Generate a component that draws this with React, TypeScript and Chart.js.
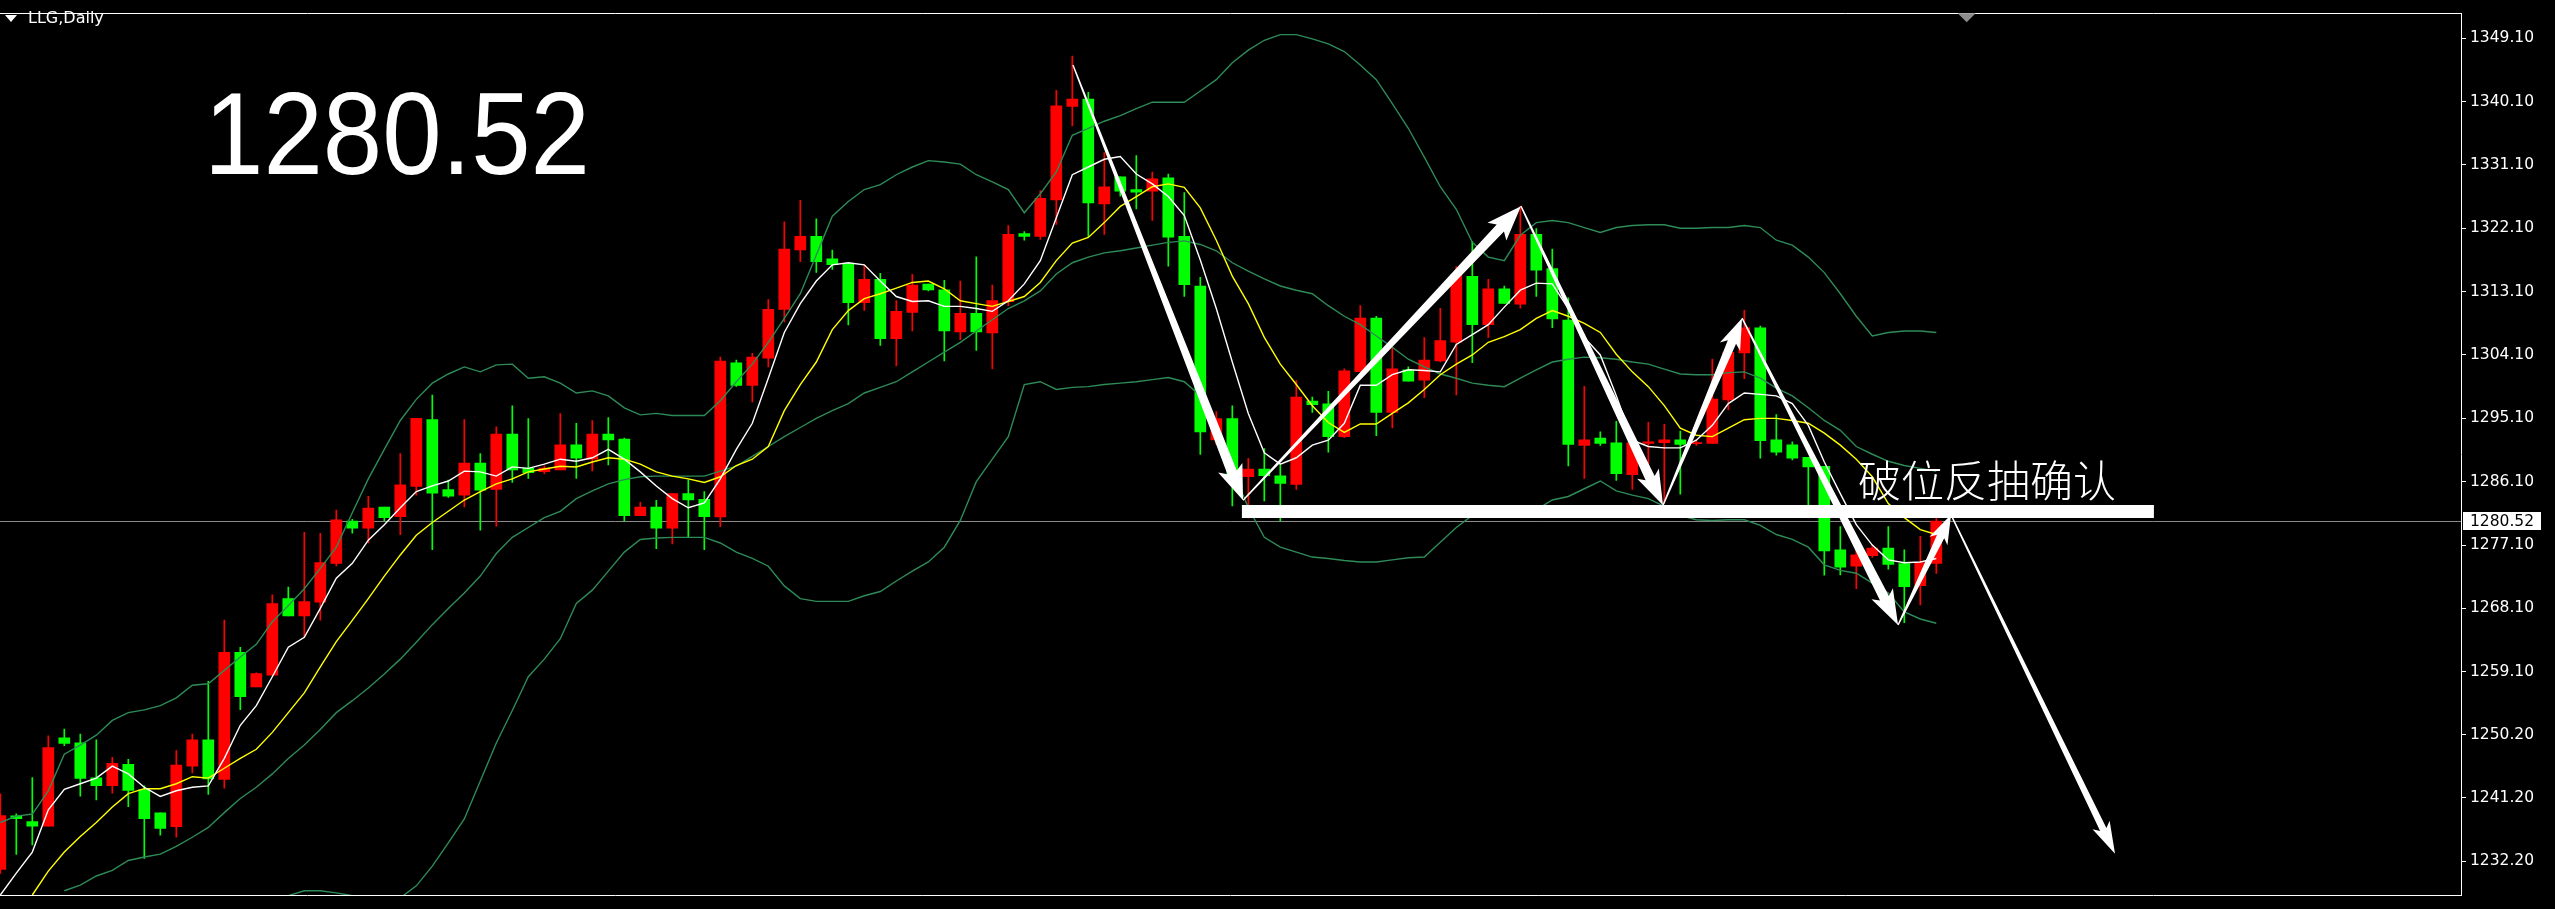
import React, { useEffect, useRef } from 'react';
import { Chart, registerables } from 'chart.js';

Chart.register(...registerables);

const SYMBOL = 'LLG,Daily';
const CURRENT_PRICE = 1280.52;
const Y_TICKS = [1349.1, 1340.1, 1331.1, 1322.1, 1313.1, 1304.1, 1295.1, 1286.1, 1277.1, 1268.1, 1259.1, 1250.2, 1241.2, 1232.2];

const OPEN = [
  1231.03, 1238.64, 1237.81, 1237.16, 1249.71, 1249.01, 1244.04, 1242.93, 1245.97, 1242.38,
  1239.06, 1237.12, 1245.70, 1249.43, 1243.80, 1261.88, 1256.94, 1258.61, 1269.49, 1267.04,
  1268.98, 1274.51, 1280.52, 1279.49, 1282.49, 1281.15, 1285.44, 1294.94, 1284.98, 1284.19,
  1288.76, 1285.02, 1292.87, 1288.03, 1287.51, 1287.79, 1291.35, 1289.31, 1292.87, 1292.17,
  1281.29, 1282.49, 1279.49, 1284.43, 1283.60, 1281.11, 1302.97, 1299.79, 1303.66, 1310.57,
  1319.01, 1320.95, 1317.77, 1317.08, 1311.54, 1314.86, 1306.42, 1310.16, 1314.17, 1313.34,
  1307.39, 1310.02, 1307.25, 1311.68, 1321.36, 1320.95, 1326.11, 1339.39, 1340.45, 1325.56,
  1329.39, 1327.59, 1327.35, 1329.25, 1320.95, 1313.89, 1292.04, 1295.08, 1286.82, 1287.89,
  1286.92, 1285.71, 1297.57, 1297.15, 1292.49, 1301.72, 1309.33, 1295.95, 1301.99, 1300.51,
  1303.24, 1305.91, 1315.27, 1308.40, 1313.48, 1311.30, 1321.22, 1316.38, 1309.05, 1291.25,
  1292.31, 1291.62, 1287.10, 1291.53, 1291.66, 1292.04, 1291.49, 1291.53, 1297.71, 1304.39,
  1307.95, 1292.04, 1291.35, 1289.55, 1288.30, 1276.41, 1274.10, 1275.58, 1276.69, 1274.47,
  1271.33, 1274.51,
];
const HIGH = [
  1241.78, 1238.92, 1244.08, 1249.99, 1250.95, 1250.26, 1249.43, 1246.94, 1246.66, 1242.89,
  1239.06, 1247.91, 1250.26, 1257.73, 1266.45, 1262.57, 1258.97, 1270.04, 1271.15, 1278.90,
  1278.76, 1282.08, 1280.74, 1284.01, 1282.49, 1290.10, 1295.12, 1298.40, 1286.32, 1294.94,
  1290.10, 1293.88, 1296.88, 1295.08, 1288.34, 1295.77, 1294.39, 1294.80, 1295.22, 1292.31,
  1283.18, 1283.46, 1284.43, 1286.37, 1284.71, 1303.80, 1303.38, 1304.35, 1311.96, 1323.02,
  1326.07, 1323.44, 1319.01, 1317.08, 1316.80, 1315.69, 1311.82, 1315.55, 1314.17, 1314.72,
  1314.58, 1318.04, 1314.03, 1322.47, 1321.64, 1327.45, 1341.70, 1346.54, 1341.42, 1332.84,
  1329.39, 1332.43, 1330.08, 1329.80, 1327.17, 1315.14, 1296.05, 1296.88, 1289.41, 1290.79,
  1288.48, 1300.47, 1298.12, 1298.95, 1302.13, 1311.12, 1309.60, 1305.04, 1302.41, 1306.56,
  1310.71, 1316.66, 1320.25, 1314.86, 1313.89, 1325.24, 1322.05, 1319.15, 1312.23, 1299.65,
  1293.18, 1294.66, 1291.62, 1294.53, 1294.25, 1293.28, 1292.04, 1303.52, 1304.49, 1310.44,
  1308.22, 1295.64, 1291.76, 1289.55, 1288.30, 1279.73, 1276.69, 1277.10, 1279.73, 1276.41,
  1278.34, 1281.66,
];
const LOW = [
  1230.48, 1233.15, 1234.53, 1237.16, 1248.60, 1241.45, 1240.90, 1241.87, 1239.93, 1232.60,
  1235.88, 1235.60, 1244.73, 1241.69, 1242.56, 1253.72, 1256.94, 1258.61, 1267.04, 1264.14,
  1266.45, 1274.15, 1278.80, 1277.42, 1280.52, 1278.58, 1284.19, 1276.45, 1283.87, 1282.53,
  1279.21, 1279.77, 1285.99, 1286.55, 1287.24, 1287.79, 1286.55, 1287.65, 1288.48, 1280.52,
  1281.29, 1276.59, 1277.28, 1278.30, 1276.45, 1279.73, 1299.65, 1297.43, 1302.41, 1308.78,
  1317.35, 1315.83, 1316.25, 1308.36, 1310.44, 1305.45, 1302.55, 1307.53, 1313.20, 1303.24,
  1306.28, 1304.76, 1302.13, 1311.12, 1320.39, 1320.53, 1322.65, 1336.62, 1320.95, 1321.22,
  1326.66, 1324.86, 1323.20, 1316.70, 1312.41, 1289.96, 1291.35, 1282.67, 1280.97, 1283.36,
  1280.56, 1285.02, 1295.95, 1290.28, 1292.35, 1301.72, 1292.63, 1293.74, 1300.38, 1298.02,
  1303.10, 1298.44, 1303.00, 1306.60, 1311.44, 1310.75, 1312.41, 1307.98, 1288.34, 1286.55,
  1291.25, 1286.27, 1285.02, 1288.21, 1283.05, 1284.33, 1291.25, 1291.53, 1296.33, 1300.75,
  1289.45, 1289.87, 1289.18, 1282.81, 1272.81, 1272.85, 1270.92, 1275.34, 1273.68, 1266.07,
  1268.59, 1273.09,
];
const CLOSE = [
  1238.69, 1238.23, 1237.16, 1248.33, 1248.92, 1243.94, 1242.93, 1246.11, 1242.24, 1238.23,
  1236.85, 1245.84, 1249.43, 1243.90, 1261.88, 1255.56, 1258.84, 1268.80, 1267.04, 1269.08,
  1274.61, 1280.70, 1279.49, 1282.35, 1281.01, 1285.67, 1295.12, 1284.47, 1284.05, 1288.76,
  1284.89, 1292.87, 1287.79, 1287.38, 1288.03, 1291.35, 1289.45, 1292.87, 1292.04, 1281.29,
  1282.49, 1279.49, 1284.43, 1283.50, 1281.15, 1303.24, 1299.79, 1303.80, 1310.57, 1319.15,
  1320.95, 1317.35, 1316.94, 1311.54, 1314.86, 1306.42, 1310.30, 1314.03, 1313.34, 1307.53,
  1310.02, 1307.39, 1311.82, 1321.22, 1320.95, 1326.34, 1339.49, 1340.45, 1325.69, 1328.00,
  1327.35, 1327.22, 1329.11, 1320.85, 1314.07, 1293.18, 1295.08, 1286.82, 1287.89, 1286.96,
  1285.85, 1298.12, 1297.06, 1292.49, 1301.86, 1309.33, 1295.95, 1302.13, 1300.38, 1303.38,
  1306.14, 1315.55, 1308.40, 1313.48, 1311.44, 1321.22, 1316.15, 1309.23, 1291.39, 1292.04,
  1291.53, 1287.24, 1291.62, 1291.76, 1292.04, 1291.39, 1291.66, 1297.85, 1304.49, 1307.95,
  1291.94, 1290.28, 1289.45, 1288.21, 1276.27, 1273.96, 1275.72, 1276.69, 1274.37, 1271.19,
  1274.61, 1280.52,
];

// Indicator lines (white fast MA, yellow slow MA, Bollinger bands)
const MA_FAST = [
  1227.4, 1230.5, 1233.5, 1239.5, 1242.4, 1243.2, 1244.0, 1245.7, 1244.6, 1242.7,
  1241.4, 1242.2, 1242.7, 1242.9, 1246.8, 1251.5, 1254.3, 1258.4, 1262.6, 1264.0,
  1268.1, 1272.4, 1274.5, 1277.8, 1280.0, 1282.4, 1284.7, 1285.5, 1286.2, 1287.6,
  1287.5, 1286.9, 1288.2, 1288.0, 1288.6, 1289.3, 1289.0, 1289.5, 1290.7, 1289.3,
  1287.5, 1285.5, 1283.7, 1282.4, 1283.1, 1286.5, 1290.7, 1294.4, 1300.8, 1307.3,
  1311.4, 1314.6, 1316.9, 1317.2, 1316.9, 1314.6, 1312.4, 1311.7, 1311.8, 1311.0,
  1311.0, 1310.7, 1310.3, 1311.8, 1314.2, 1317.5, 1323.6, 1329.7, 1330.8, 1331.9,
  1332.3, 1329.8, 1328.4, 1326.6, 1323.9, 1317.6, 1310.7, 1303.1, 1295.8, 1290.2,
  1288.6, 1289.5, 1291.3, 1292.0, 1294.4, 1299.8, 1299.8, 1301.3, 1302.0, 1301.9,
  1301.7, 1305.6, 1307.0, 1308.4, 1310.9, 1313.3, 1314.3, 1314.2, 1310.7, 1306.6,
  1304.1, 1298.3, 1292.0, 1291.1, 1290.9, 1290.9, 1292.0, 1294.1, 1297.2, 1298.7,
  1298.5, 1298.3, 1297.2, 1294.1, 1288.9, 1284.4, 1280.0, 1277.1, 1275.0, 1274.6,
  1274.7, 1275.2,
];
const MA_SLOW = [
  null, null, 1227.4, 1230.8, 1233.5, 1235.7, 1237.7, 1239.9, 1241.8, 1242.5,
  1242.5, 1243.2, 1244.2, 1244.0, 1245.4, 1246.8, 1248.1, 1250.5, 1253.3, 1256.1,
  1259.8, 1263.4, 1266.4, 1269.5, 1272.7, 1275.7, 1278.5, 1280.3, 1281.9, 1283.5,
  1284.7, 1285.8, 1286.5, 1287.5, 1287.9, 1288.3, 1288.2, 1288.9, 1289.5, 1289.3,
  1288.6, 1287.5, 1286.9, 1286.5, 1286.0, 1286.8, 1288.4, 1289.3, 1291.1, 1296.2,
  1299.9, 1303.1, 1307.7, 1310.4, 1312.1, 1312.8, 1313.6, 1314.4, 1314.6, 1313.5,
  1311.8, 1311.4, 1311.0, 1311.7, 1312.4, 1314.4, 1317.5, 1320.0, 1320.8, 1322.9,
  1325.2, 1326.6, 1328.0, 1328.4, 1327.9, 1325.0, 1320.4, 1315.3, 1311.4, 1306.6,
  1302.8, 1299.9, 1296.9, 1294.5, 1293.1, 1294.3, 1294.3, 1295.8, 1297.3, 1299.2,
  1301.3, 1302.8, 1304.1, 1305.9, 1306.7, 1307.7, 1309.3, 1310.4, 1309.6, 1308.6,
  1307.3, 1304.2, 1301.7, 1299.6, 1296.9, 1293.7, 1292.7, 1292.5, 1293.7, 1294.9,
  1295.1, 1295.1, 1294.8, 1294.4, 1293.0, 1291.3, 1289.3, 1286.8, 1283.0, 1281.0,
  1279.3, 1278.6,
];
const BB_UPPER = [
  1237.7, 1238.6, 1238.9, 1242.2, 1247.4, 1248.7, 1250.1, 1252.2, 1253.3, 1253.7,
  1254.3, 1255.4, 1257.2, 1257.4, 1259.3, 1261.2, 1263.0, 1266.2, 1268.5, 1270.9,
  1273.8, 1276.8, 1281.7, 1286.5, 1290.7, 1294.8, 1297.8, 1300.1, 1301.4, 1302.4,
  1301.7, 1302.7, 1302.8, 1300.8, 1301.0, 1300.1, 1298.7, 1299.0, 1298.3, 1296.6,
  1295.6, 1295.8, 1295.5, 1295.5, 1295.5, 1297.6, 1300.3, 1302.8, 1305.9, 1309.3,
  1312.8, 1318.3, 1323.8, 1325.9, 1327.6, 1328.3, 1329.7, 1330.8, 1331.7, 1331.5,
  1331.2, 1329.7, 1328.7, 1327.6, 1324.3, 1327.0, 1330.1, 1335.3, 1336.3, 1337.3,
  1338.1, 1339.1, 1340.0, 1340.0, 1340.0, 1341.6, 1343.2, 1345.6, 1347.4, 1348.8,
  1349.6, 1349.6, 1349.0, 1348.3, 1347.2, 1345.3, 1343.2, 1339.8, 1336.3, 1332.2,
  1328.0, 1324.8, 1320.1, 1318.0, 1317.5, 1321.1, 1322.9, 1323.2, 1322.9, 1322.2,
  1321.5, 1322.2, 1322.5, 1322.6, 1322.6, 1322.1, 1322.1, 1322.2, 1322.2, 1322.5,
  1322.2, 1320.4, 1319.7, 1318.0, 1315.8, 1312.8, 1309.6, 1306.8, 1307.3, 1307.5,
  1307.5, 1307.3,
];
const BB_MIDDLE = [
  null, null, null, null, 1228.0, 1228.8, 1230.1, 1230.9, 1232.3, 1232.8,
  1233.2, 1234.3, 1235.6, 1237.0, 1239.1, 1241.1, 1242.7, 1244.6, 1246.8, 1248.7,
  1250.9, 1253.3, 1255.0, 1256.8, 1258.8, 1260.9, 1263.3, 1265.8, 1268.1, 1270.3,
  1272.7, 1275.9, 1278.2, 1279.6, 1281.0, 1281.9, 1283.7, 1284.8, 1285.8, 1286.4,
  1286.8, 1286.9, 1286.9, 1286.9, 1286.9, 1287.6, 1288.3, 1289.7, 1291.1, 1292.5,
  1293.8, 1295.1, 1296.2, 1297.2, 1298.7, 1299.5, 1300.3, 1301.7, 1303.1, 1304.5,
  1305.9, 1307.5, 1309.1, 1310.7, 1311.8, 1313.2, 1315.6, 1317.2, 1318.0, 1318.6,
  1318.9, 1319.3, 1319.7, 1320.1, 1320.3, 1319.8, 1318.9, 1317.2, 1316.0, 1314.9,
  1313.9, 1313.3, 1312.8, 1311.1, 1309.6, 1308.4, 1306.8, 1305.2, 1303.5, 1302.4,
  1301.4, 1300.8, 1300.1, 1299.8, 1299.6, 1300.8, 1302.0, 1303.1, 1303.5, 1303.8,
  1303.7, 1303.5, 1303.1, 1302.8, 1302.1, 1301.4, 1301.3, 1301.3, 1301.6, 1301.7,
  1300.8, 1299.4, 1298.3, 1296.6, 1294.8, 1293.4, 1291.1, 1290.0, 1289.0, 1288.4,
  1288.0, 1287.6,
];
const BB_LOWER = [
  null, null, null, null, null, null, null, null, null, null,
  null, null, null, null, null, null, null, null, 1227.3, 1228.0,
  1228.0, 1227.7, 1227.3, 1226.7, 1226.6, 1227.0, 1228.7, 1231.5, 1234.8, 1238.2,
  1243.6, 1249.0, 1253.6, 1258.4, 1260.9, 1263.8, 1268.8, 1270.7, 1273.4, 1276.1,
  1277.9, 1278.1, 1278.2, 1278.2, 1278.2, 1277.4, 1276.1, 1275.2, 1274.1, 1271.3,
  1269.5, 1269.1, 1269.1, 1269.1, 1269.9, 1270.5, 1272.0, 1273.4, 1274.7, 1276.8,
  1280.6, 1286.1, 1289.3, 1292.5, 1299.9, 1300.3, 1299.2, 1299.5, 1299.6, 1299.9,
  1300.1, 1300.3, 1300.6, 1300.9, 1300.3, 1298.3, 1293.4, 1287.9, 1282.4, 1278.2,
  1276.8, 1276.1, 1275.4, 1275.2, 1274.9, 1274.7, 1274.7, 1275.0, 1275.3, 1275.4,
  1277.5, 1279.6, 1281.3, 1281.3, 1281.1, 1281.1, 1282.1, 1283.5, 1284.0, 1285.1,
  1286.2, 1284.8, 1284.2, 1283.7, 1282.6, 1281.3, 1280.7, 1280.6, 1280.7, 1280.7,
  1279.9, 1278.6, 1277.9, 1276.8, 1274.3, 1273.5, 1273.1, 1271.7, 1270.3, 1267.6,
  1266.6, 1266.0,
];

// Hand-drawn annotation: arrow path vertices [bar index, price]
const ARROW_PATH = [
  [67.04, 1345.3], [77.67, 1283.46], [95.04, 1325.24], [103.92, 1282.77],
  [108.86, 1309.33], [118.61, 1265.75], [121.92, 1281.39], [132.17, 1233.25],
];
const SUPPORT_LINE = { from: 77.6, to: 134.6, price: 1281.87 };
const NOTE = { text: '破位反抽确认', x: 116.1, price: 1286.2 };

const UP_COLOR = '#FF0000';
const DOWN_COLOR = '#00FF00';
const BAND_COLOR = '#2E8B57';

function drawArrow(ctx: CanvasRenderingContext2D, x0: number, y0: number, x1: number, y1: number, endW: number, headW: number, headL: number) {
  const dx = x1 - x0, dy = y1 - y0;
  const len = Math.hypot(dx, dy);
  const ux = dx / len, uy = dy / len;
  const nx = -uy, ny = ux;
  const bx = x1 - ux * headL, by = y1 - uy * headL;
  const sw = 0.7;
  const back = 5;
  ctx.beginPath();
  ctx.moveTo(x0 + nx * sw, y0 + ny * sw);
  ctx.lineTo(bx + nx * endW / 2, by + ny * endW / 2);
  ctx.lineTo(bx - ux * back + nx * headW / 2, by - uy * back + ny * headW / 2);
  ctx.lineTo(x1, y1);
  ctx.lineTo(bx - ux * back - nx * headW / 2, by - uy * back - ny * headW / 2);
  ctx.lineTo(bx - nx * endW / 2, by - ny * endW / 2);
  ctx.lineTo(x0 - nx * sw, y0 - ny * sw);
  ctx.closePath();
  ctx.fill();
}

const overlayPlugin = {
  id: 'mtOverlay',
  beforeDraw(chart: any) {
    const ctx = chart.ctx as CanvasRenderingContext2D;
    ctx.save();
    ctx.fillStyle = '#000000';
    ctx.fillRect(0, 0, chart.width, chart.height);
    ctx.restore();
  },
  beforeDatasetsDraw(chart: any) {
    const ctx = chart.ctx as CanvasRenderingContext2D;
    const { left, right } = chart.chartArea;
    const y = Math.round(chart.scales.y.getPixelForValue(CURRENT_PRICE)) + 0.5;
    ctx.save();
    ctx.strokeStyle = '#8A8A8A';
    ctx.lineWidth = 1;
    ctx.beginPath();
    ctx.moveTo(left, y);
    ctx.lineTo(right, y);
    ctx.stroke();
    ctx.restore();
  },
  afterDatasetsDraw(chart: any) {
    const ctx = chart.ctx as CanvasRenderingContext2D;
    const xs = chart.scales.x, ys = chart.scales.y;
    const area = chart.chartArea;
    ctx.save();
    ctx.beginPath();
    ctx.rect(area.left, area.top, area.right - area.left, area.bottom - area.top);
    ctx.clip();
    // support bar
    ctx.fillStyle = '#FFFFFF';
    const sy = ys.getPixelForValue(SUPPORT_LINE.price);
    const sx0 = xs.getPixelForValue(SUPPORT_LINE.from);
    const sx1 = xs.getPixelForValue(SUPPORT_LINE.to);
    ctx.fillRect(sx0, sy - 6.5, sx1 - sx0, 13);
    // arrows
    const sizes = [
      [10, 26, 30], [10, 26, 30], [10, 24, 30], [9, 22, 26], [10, 24, 30], [8, 20, 24], [7, 19, 27],
    ];
    for (let i = 0; i < ARROW_PATH.length - 1; i++) {
      const a = ARROW_PATH[i], b = ARROW_PATH[i + 1];
      const s = sizes[i] || [8, 20, 24];
      drawArrow(ctx, xs.getPixelForValue(a[0]), ys.getPixelForValue(a[1]), xs.getPixelForValue(b[0]), ys.getPixelForValue(b[1]), s[0], s[1], s[2]);
    }
    // note text
    ctx.fillStyle = '#FFFFFF';
    ctx.font = '300 43px "Noto Sans CJK SC"';
    ctx.textBaseline = 'middle';
    ctx.textAlign = 'left';
    ctx.fillText(NOTE.text, xs.getPixelForValue(NOTE.x), ys.getPixelForValue(NOTE.price));
    ctx.restore();

    // frame lines
    ctx.save();
    ctx.strokeStyle = '#FFFFFF';
    ctx.lineWidth = 1;
    ctx.beginPath();
    ctx.moveTo(0, Math.round(area.top) + 0.5);
    ctx.lineTo(area.right, Math.round(area.top) + 0.5);
    ctx.moveTo(0, Math.round(area.bottom) - 0.5);
    ctx.lineTo(area.right, Math.round(area.bottom) - 0.5);
    ctx.stroke();
    ctx.restore();
  },
  afterDraw(chart: any) {
    const ctx = chart.ctx as CanvasRenderingContext2D;
    const ys = chart.scales.y;
    const area = chart.chartArea;
    ctx.save();
    // current price box on the axis
    const py = ys.getPixelForValue(CURRENT_PRICE);
    ctx.fillStyle = '#FFFFFF';
    ctx.fillRect(area.right + 2, py - 9, 78, 18);
    ctx.fillStyle = '#000000';
    ctx.font = '15.5px "DejaVu Sans"';
    ctx.textBaseline = 'middle';
    ctx.textAlign = 'left';
    ctx.fillText(CURRENT_PRICE.toFixed(2), area.right + 9, py + 1);
    // big price label
    ctx.fillStyle = '#FFFFFF';
    ctx.font = '116px "Liberation Sans"';
    ctx.textBaseline = 'alphabetic';
    ctx.fillText(CURRENT_PRICE.toFixed(2), 204, 174, 386);
    // symbol label
    ctx.font = '16px "DejaVu Sans"';
    ctx.textBaseline = 'middle';
    ctx.fillText(SYMBOL, 28, 19, 76);
    ctx.beginPath();
    ctx.moveTo(5, 15);
    ctx.lineTo(17, 15);
    ctx.lineTo(11, 22);
    ctx.closePath();
    ctx.fill();
    // chart shift marker
    const mx = chart.scales.x.getPixelForValue(122.9);
    ctx.fillStyle = '#8C8C8C';
    ctx.beginPath();
    ctx.moveTo(mx - 9, area.top);
    ctx.lineTo(mx + 9, area.top);
    ctx.lineTo(mx, area.top + 9);
    ctx.closePath();
    ctx.fill();
    ctx.restore();
  },
};

export default function App() {
  const ref = useRef<HTMLCanvasElement | null>(null);
  useEffect(() => {
    document.body.style.margin = '0';
    document.body.style.background = '#000';
    const canvas = ref.current;
    if (!canvas) return;
    const idx = OPEN.map((_, i) => i);
    const colors = idx.map((i) => (CLOSE[i] >= OPEN[i] ? UP_COLOR : DOWN_COLOR));
    const lineDs = (label: string, values: (number | null)[], color: string, width: number) => ({
      type: 'line' as const,
      label,
      data: values.map((v, i) => ({ x: i, y: v })),
      borderColor: color,
      borderWidth: width,
      pointRadius: 0,
      tension: 0,
      spanGaps: false,
      order: 0,
    });
    const chart = new Chart(canvas, {
      type: 'bar',
      data: {
        datasets: [
          lineDs('MA fast', MA_FAST, '#FFFFFF', 1.4),
          lineDs('MA slow', MA_SLOW, '#FFFF00', 1.4),
          lineDs('BB upper', BB_UPPER, BAND_COLOR, 1.4),
          lineDs('BB middle', BB_MIDDLE, BAND_COLOR, 1.4),
          lineDs('BB lower', BB_LOWER, BAND_COLOR, 1.4),
          {
            type: 'bar' as const,
            label: 'body',
            data: idx.map((i) => ({ x: i, y: [OPEN[i], CLOSE[i]] })) as any,
            backgroundColor: colors,
            borderWidth: 0,
            barThickness: 11,
            minBarLength: 1,
            grouped: false,
            order: 1,
          } as any,
          {
            type: 'bar' as const,
            label: 'wick',
            data: idx.map((i) => ({ x: i, y: [LOW[i], HIGH[i]] })) as any,
            backgroundColor: colors,
            borderWidth: 0,
            barThickness: 1,
            grouped: false,
            order: 2,
          } as any,
        ],
      },
      options: {
        responsive: false,
        maintainAspectRatio: false,
        devicePixelRatio: 1,
        animation: false,
        layout: { padding: { top: 2, bottom: 1, left: 0, right: 0 } },
        plugins: { legend: { display: false }, tooltip: { enabled: false } },
        events: [],
        scales: {
          x: {
            type: 'linear',
            min: -0.019,
            max: -0.019 + 2461 / 16,
            display: false,
            offset: false,
          },
          y: {
            type: 'linear',
            position: 'right',
            min: 1227.3,
            max: 1352.63,
            afterFit: (scale: any) => {
              scale.width = 94;
            },
            afterBuildTicks: (scale: any) => {
              scale.ticks = Y_TICKS.map((v) => ({ value: v }));
            },
            grid: {
              display: true,
              drawOnChartArea: false,
              drawTicks: true,
              tickLength: 5,
              color: '#FFFFFF',
            },
            border: { display: true, color: '#FFFFFF', width: 1 },
            ticks: {
              autoSkip: false,
              padding: 4,
              color: '#FFFFFF',
              font: { family: 'DejaVu Sans', size: 15.5 },
              callback: (v: any) => Number(v).toFixed(2),
            },
          },
        },
      } as any,
      plugins: [overlayPlugin],
    });
    return () => chart.destroy();
  }, []);
  return <canvas ref={ref} width={2555} height={909} style={{ display: 'block', width: 2555, height: 909 }} />;
}
